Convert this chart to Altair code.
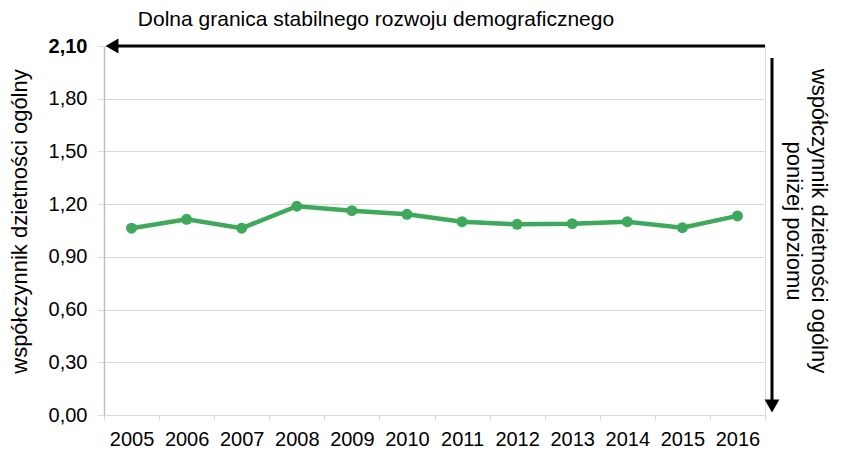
import altair as alt
import pandas as pd

years = ["2005", "2006", "2007", "2008", "2009", "2010",
         "2011", "2012", "2013", "2014", "2015", "2016"]
tfr = [1.063, 1.114, 1.063, 1.188, 1.163, 1.142,
       1.100, 1.085, 1.089, 1.100, 1.066, 1.133]
y_ticks = [0.0, 0.3, 0.6, 0.9, 1.2, 1.5, 1.8, 2.1]
threshold = 2.1
top_label = "Dolna granica stabilnego rozwoju demograficznego"
right_label = ["współczynnik dzietności ogólny", "poniżej poziomu"]
y_title = "współczynnik dzietności ogólny"

W, H = 661, 369
FONT = "Liberation Sans"
GREEN = "#3EA85B"

df = pd.DataFrame({"year": years, "tfr": tfr})

x_enc = alt.X(
    "year:N",
    bandPosition=0.5,
    scale=alt.Scale(type="band", paddingInner=0, paddingOuter=0),
    axis=alt.Axis(
        title=None, labelAngle=0, tickBand="extent", grid=False,
        domainColor="#D9D9D9", tickColor="#D9D9D9", tickSize=5,
        labelFont=FONT, labelFontSize=20, labelColor="#000000",
        labelPadding=9,
    ),
)
y_enc = alt.Y(
    "tfr:Q",
    scale=alt.Scale(domain=[0, 2.1], nice=False, zero=True),
    axis=alt.Axis(
        title=y_title, values=y_ticks,
        labelExpr="replace(format(datum.value, '.2f'), '.', ',')",
        labelFontWeight={"condition": {"test": "datum.value > 2.05", "value": "bold"}, "value": "normal"},
        labelFont=FONT, labelFontSize=20, labelColor="#000000", labelPadding=10,
        tickColor="#D9D9D9", tickSize=7, domainColor="#BFBFBF", domainWidth=1.5,
        gridColor="#D9D9D9", gridWidth=1,
        titleFont=FONT, titleFontSize=22, titleFontWeight="normal", titleColor="#000000",
        titlePadding=17, titleY=175,
    ),
)

line = alt.Chart(df).mark_line(color=GREEN, strokeWidth=4.5).encode(x=x_enc, y=y_enc)
pts = alt.Chart(df).mark_point(color=GREEN, filled=True, size=120, opacity=1).encode(
    x=alt.X("year:N", bandPosition=0.5), y="tfr:Q")

thr = pd.DataFrame({"v": [threshold]})
h_rule = alt.Chart(thr).mark_rule(color="#000000", strokeWidth=3).encode(
    y="v:Q", x=alt.value(10), x2=alt.value(W))
h_head = alt.Chart(thr).mark_point(shape="triangle-left", filled=True, color="#000000",
                                   size=220, opacity=1).encode(y="v:Q", x=alt.value(8))

v_rule = alt.Chart(thr).mark_rule(color="#000000", strokeWidth=3).encode(
    x=alt.value(668), y=alt.value(12), y2=alt.value(356))
v_head = alt.Chart(thr).mark_point(shape="triangle-down", filled=True, color="#000000",
                                   size=220, opacity=1).encode(x=alt.value(668), y=alt.value(360))

top_txt = alt.Chart(pd.DataFrame({"t": [top_label]})).mark_text(
    font=FONT, fontSize=21, color="#000000", align="center", baseline="middle"
).encode(text="t:N", x=alt.value(272), y=alt.value(-26))

right_txt = alt.Chart(pd.DataFrame({"t": [right_label]})).mark_text(
    font=FONT, fontSize=22, color="#000000", align="center", baseline="middle",
    angle=90, lineHeight=25
).encode(text="t", x=alt.value(715), y=alt.value(175))

chart = alt.layer(line, pts, h_rule, h_head, v_rule, v_head, top_txt, right_txt).properties(
    width=W, height=H,
    padding={"left": 96, "top": 38, "right": 68, "bottom": 37},
    autosize=alt.AutoSizeParams(type="none"),
).configure_view(stroke=None).configure(background="#FFFFFF")

chart.save("out.html", embed_options={"renderer": "svg", "actions": False})
